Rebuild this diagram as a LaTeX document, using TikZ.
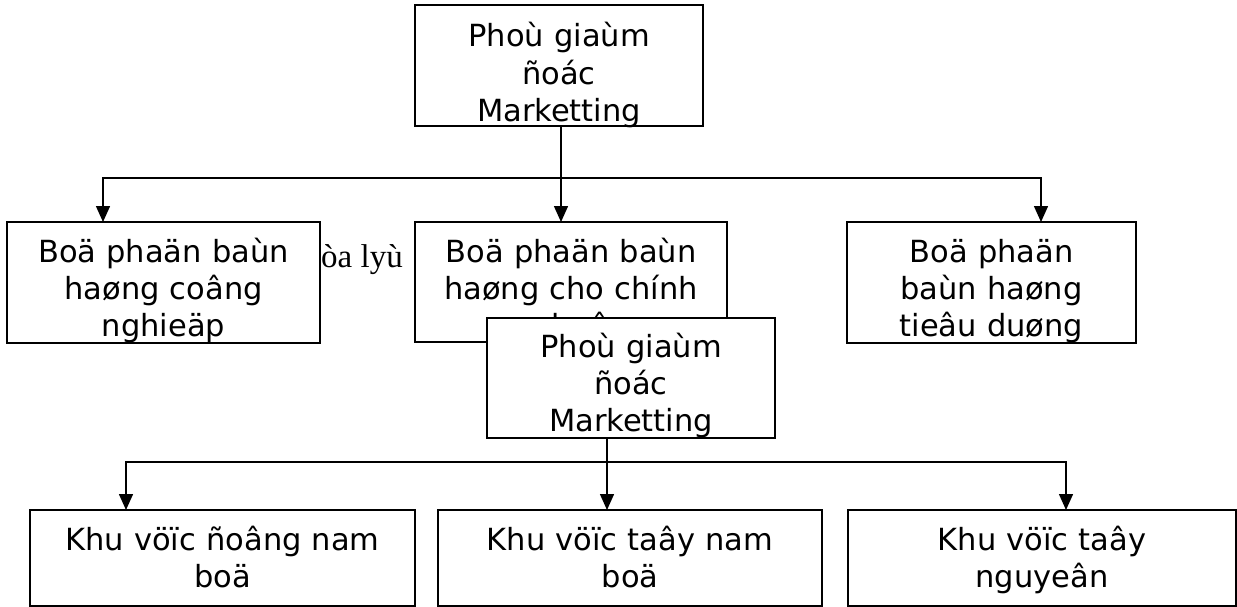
\documentclass[tikz,border=0pt]{standalone}
\usepackage{fontspec}
\newfontfamily\boxfont{DejaVu Sans}
\newfontfamily\notefont{Liberation Serif}
\usetikzlibrary{arrows.meta}

\tikzset{
  unit/.style={draw=black, line width=1.5pt, fill=white, inner sep=0pt, outer sep=0pt},
  label/.style={font=\boxfont\fontsize{30.5}{37.3}\selectfont, text width=380pt,
                align=center, inner sep=0pt, anchor=base},
  link/.style={draw=black, line width=1.5pt},
  arrowlink/.style={link, -{Triangle[length=16pt, width=14pt]}},
}

\begin{document}
\begin{tikzpicture}[x=1pt, y=-1pt]
\useasboundingbox (0,0) rectangle (1237,607);

% note partly hidden behind the first department box
\node[font=\notefont\fontsize{33}{38}\selectfont, anchor=base east, inner sep=0pt]
  (geo) at (403,267) {ñòa lyù};

% top-level manager
\node[unit, minimum width=288pt, minimum height=121pt] (top) at (559,65.5) {};
\node[label] (toptext) at (559,47) {Phoù giaùm\\ñoác\\Marketting};

% departments
\node[unit, minimum width=313pt, minimum height=121pt] (dep1) at (163.5,282.5) {};
\node[label] (dep1text) at (163.5,262) {Boä phaän baùn\\haøng coâng\\nghieäp};

\node[unit, minimum width=312pt, minimum height=120pt] (dep2) at (571,282) {};
\node[label] (dep2text) at (571,262) {Boä phaän baùn\\haøng cho chính\\phuû};

\node[unit, minimum width=289pt, minimum height=121pt] (dep3) at (991.5,282.5) {};
\node[label] (dep3text) at (991.5,262) {Boä phaän\\baùn haøng\\tieâu duøng};

% second manager, laid over the middle department
\node[unit, minimum width=288pt, minimum height=120pt] (mgr) at (631,378) {};
\node[label] (mgrtext) at (631,357) {Phoù giaùm\\ñoác\\Marketting};

% regions
\node[unit, minimum width=385pt, minimum height=96pt] (reg1) at (222.5,558) {};
\node[label] (reg1text) at (222.5,550) {Khu vöïc ñoâng nam\\boä};

\node[unit, minimum width=384pt, minimum height=96pt] (reg2) at (630,558) {};
\node[label] (reg2text) at (630,550) {Khu vöïc taây nam\\boä};

\node[unit, minimum width=388pt, minimum height=96pt] (reg3) at (1042,558) {};
\node[label] (reg3text) at (1042,550) {Khu vöïc taây\\nguyeân};

% branch points of the upper tree
\coordinate (busA) at (561,178);
\coordinate (busAl) at (103,178);
\coordinate (busAr) at (1041,178);

\draw[arrowlink] (top.south -| busA) -- (dep2.north -| busA);
\draw[arrowlink] (busA) -- (busAl) -- (dep1.north -| busAl);
\draw[arrowlink] (busA) -- (busAr) -- (dep3.north -| busAr);

% branch points of the lower tree
\coordinate (busB) at (607,462);
\coordinate (busBl) at (126,462);
\coordinate (busBr) at (1066,462);

\draw[arrowlink] (mgr.south -| busB) -- (reg2.north -| busB);
\draw[arrowlink] (busB) -- (busBl) -- (reg1.north -| busBl);
\draw[arrowlink] (busB) -- (busBr) -- (reg3.north -| busBr);
\end{tikzpicture}
\end{document}
